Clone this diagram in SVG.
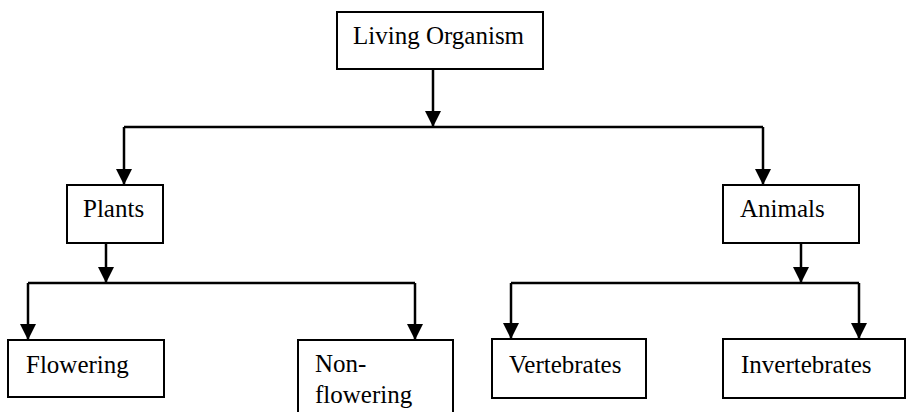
<svg xmlns="http://www.w3.org/2000/svg" width="907" height="412" viewBox="0 0 907 412">
<style>
.box{fill:#fff;stroke:#000;stroke-width:2}
.t{font-family:"Liberation Serif","Times New Roman",serif;font-size:25px;fill:#000}
.c{fill:none;stroke:#000;stroke-width:2.5}
</style>
<defs>
<marker id="ah" markerUnits="userSpaceOnUse" markerWidth="16" markerHeight="16" viewBox="0 0 16 16" refX="16" refY="8" orient="auto">
<path d="M0,0 L16,8 L0,16 Z" fill="#000"/>
</marker>
</defs>
<rect width="907" height="412" fill="#fff"/>
<g id="connectors">
<path class="c" d="M433,69 V127" marker-end="url(#ah)"/>
<path class="c" d="M124,127 H763"/>
<path class="c" d="M124,127 V185" marker-end="url(#ah)"/>
<path class="c" d="M763,127 V185" marker-end="url(#ah)"/>
<path class="c" d="M106,243 V283" marker-end="url(#ah)"/>
<path class="c" d="M28,283 H415"/>
<path class="c" d="M28,283 V340" marker-end="url(#ah)"/>
<path class="c" d="M415,283 V340" marker-end="url(#ah)"/>
<path class="c" d="M801,243 V283" marker-end="url(#ah)"/>
<path class="c" d="M511,283 H859"/>
<path class="c" d="M511,283 V339" marker-end="url(#ah)"/>
<path class="c" d="M859,283 V339" marker-end="url(#ah)"/>
</g>
<g id="living">
<rect class="box" x="337" y="12" width="206" height="57"/>
<text class="t" x="353" y="44">Living Organism</text>
</g>
<g id="plants">
<rect class="box" x="67" y="185" width="96" height="58"/>
<text class="t" x="83" y="217">Plants</text>
</g>
<g id="animals">
<rect class="box" x="723" y="185" width="136" height="58"/>
<text class="t" x="740" y="217">Animals</text>
</g>
<g id="flowering">
<rect class="box" x="8" y="340" width="156" height="57"/>
<text class="t" x="26" y="373">Flowering</text>
</g>
<g id="nonflowering">
<rect class="box" x="298" y="340" width="155" height="80"/>
<text class="t" x="315" y="372">Non-</text>
<text class="t" x="315" y="403">flowering</text>
</g>
<g id="vertebrates">
<rect class="box" x="492" y="339" width="154" height="59"/>
<text class="t" x="509" y="373">Vertebrates</text>
</g>
<g id="invertebrates">
<rect class="box" x="723" y="339" width="182" height="59"/>
<text class="t" x="741" y="373">Invertebrates</text>
</g>
</svg>
